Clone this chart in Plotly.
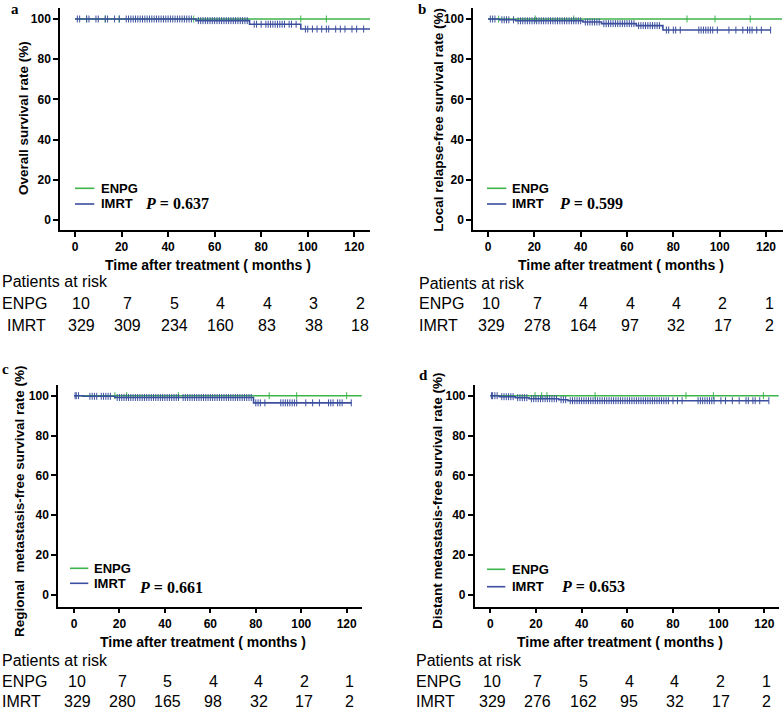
import plotly.graph_objects as go

# ---------------- data ----------------
risk_times = [0, 20, 40, 60, 80, 100, 120]
panel_letters = ["a", "b", "c", "d"]
y_titles = ["Overall survival rate (%)",
            "Local relapse-free survival rate (%)",
            "Regional  metastasis-free survival rate (%)",
            "Distant metastasis-free survival rate (%)"]
p_values = ["0.637", "0.599", "0.661", "0.653"]

risk_enpg = [[10, 7, 5, 4, 4, 3, 2],
             [10, 7, 4, 4, 4, 2, 1],
             [10, 7, 5, 4, 4, 2, 1],
             [10, 7, 5, 4, 4, 2, 1]]
risk_imrt = [[329, 309, 234, 160, 83, 38, 18],
             [329, 278, 164, 97, 32, 17, 2],
             [329, 280, 165, 98, 32, 17, 2],
             [329, 276, 162, 95, 32, 17, 2]]

# IMRT Kaplan-Meier steps (event times, survival %), and last follow-up time
imrt_times = [[0, 52, 75, 97],
              [0, 5, 12, 41, 49, 64, 75.5],
              [0, 4, 18, 79],
              [0, 4, 11, 17, 30, 34]]
imrt_surv = [[100, 99.2, 97.4, 95.0],
             [100, 99.6, 99.1, 98.5, 97.7, 96.7, 94.5],
             [100, 99.7, 99.1, 96.4],
             [100, 99.5, 99.0, 98.5, 98.0, 97.5]]
imrt_end = [126.8, 122, 122.2, 122]

imrt_cens = [
    [1, 2, 5, 6, 9, 10, 13, 14, 17, 19, 22, 23, 24, 25, 26, 27, 28, 29, 30, 31, 32, 33, 34, 35,
     36, 37, 38, 39, 40, 41, 42, 43, 44, 45, 46, 47, 48, 49, 50, 53, 54, 55, 56, 57, 58, 59, 60,
     61, 62, 63, 64, 65, 66, 67, 68, 69, 70, 71, 72, 73, 74, 77, 78, 80, 82, 83, 84, 85, 86, 87,
     88, 89, 90, 92, 93, 95, 99, 100, 102, 104, 106, 108, 109, 112, 114, 116, 119, 121, 124],
    [1, 2, 3, 6, 7, 8, 9, 11, 13, 14, 15, 16, 17, 18, 19, 20, 21, 22, 23, 24, 25, 26, 27, 28, 29,
     30, 31, 32, 33, 34, 35, 36, 37, 38, 39, 40, 42, 43, 44, 45, 46, 47, 48, 50, 51, 52, 53, 54,
     55, 56, 57, 58, 59, 60, 61, 62, 63, 65, 66, 67, 68, 69, 70, 71, 72, 73, 74, 77, 78, 80, 81,
     83, 91, 92, 93, 94, 95, 96, 97, 99, 104, 107, 110, 112, 113, 114, 116, 118, 122],
    [0.5, 1, 2, 7, 8, 9, 10, 12, 13, 14, 15, 16, 19, 20, 21, 22, 23, 24, 25, 26, 27, 28, 29, 30,
     31, 32, 33, 34, 35, 36, 37, 38, 39, 40, 41, 42, 43, 44, 45, 46, 48, 49, 50, 51, 52, 53, 54,
     55, 56, 57, 58, 59, 60, 61, 62, 63, 64, 65, 66, 67, 68, 69, 70, 71, 72, 73, 74, 75, 76, 77,
     78, 80, 81, 82, 84, 91, 92, 93, 94, 95, 96, 97, 98, 102, 105, 108, 112, 113, 114, 116, 117,
     118, 122],
    [0.5, 1, 2, 3, 5, 6, 7, 8, 9, 10, 12, 13, 14, 15, 16, 18, 19, 20, 21, 22, 23, 24, 25, 26, 27,
     28, 29, 31, 32, 33, 35, 36, 37, 38, 39, 40, 41, 42, 43, 44, 45, 46, 47, 48, 49, 50, 51, 52,
     53, 54, 55, 56, 57, 58, 59, 60, 61, 62, 63, 64, 65, 66, 67, 68, 69, 70, 71, 72, 73, 74, 75,
     76, 77, 78, 80, 82, 84, 91, 92, 93, 94, 95, 96, 97, 98, 101, 103, 106, 109, 112, 113, 115,
     116, 118, 122],
]

enpg_end = [126.8, 126.9, 126.6, 126.3]
enpg_cens = [[5, 13, 19, 51, 97, 108],
             [4.6, 20.4, 37, 85.9, 98, 113.2],
             [18, 23.2, 45.9, 85.9, 98, 120],
             [19.6, 22.5, 24.8, 45.9, 85.7, 97.7, 119.6]]

# ---------------- layout (pixel geometry) ----------------
W, H = 784, 712
GREEN = "#3db54a"
BLUE = "#3b4f9e"

# L, R, T, B, x0px, x120px, y100px, y0px
geom = [
    (60, 370, 8.3, 230, 75, 354.3, 19, 220),
    (473, 783, 8.3, 230, 488, 766, 19, 220),
    (58, 362, 385, 606.7, 74, 346.7, 395.7, 595),
    (474.7, 779, 385, 606.7, 490.3, 764.3, 395.7, 595),
]
letter_pos = [(14.5, 9), (422, 9), (5, 369), (423, 375)]
ytitle_pos = [(23, 118), (438.7, 120), (19, 501), (437, 501)]
xtitle_y = [265, 265, 641.7, 641.7]
legend_geo = [  # line x0, x1, text x, y enpg, y imrt, p x, p y
    (75, 94.3, 99, 188.3, 204, 143.3, 203),
    (487, 506.3, 510.3, 188.3, 204, 557, 203),
    (70, 88.3, 91.7, 568.3, 583.3, 136.7, 587),
    (487, 505.3, 510.3, 569.3, 586.7, 558.7, 586.7),
]
risk_rows_y = [(281.7, 303.3, 326), (283.3, 303.3, 325), (660, 681.7, 701.7), (660, 681.7, 701.7)]
risk_label_x = [(0, 0, 5), (417, 417, 417), (0, 0, 0), (413.7, 413.7, 413.7)]
risk_xshift = [6, 3, 3, 2]


def px(x):
    return x / W


def py(y):
    return 1 - y / H


def step_at(times, surv, t):
    v = surv[0]
    for tt, s in zip(times, surv):
        if t >= tt:
            v = s
    return v


fig = go.Figure()
annotations = []
shapes = []
axis_font = dict(family="Liberation Sans", size=12, color="black", weight="bold")

for i in range(4):
    L, R, T, B, x0p, x120p, y100p, y0p = geom[i]
    sx = (x120p - x0p) / 120.0
    sy = (y0p - y100p) / 100.0
    xr = [(L - x0p) / sx, (R - x0p) / sx]
    yr = [-(B - y0p) / sy, (y0p - T) / sy]
    n = "" if i == 0 else str(i + 1)
    xa, ya = "x" + n, "y" + n

    # ENPG curve
    fig.add_trace(go.Scatter(x=[0, enpg_end[i]], y=[100, 100], mode="lines",
                             line=dict(color=GREEN, width=1.6), xaxis=xa, yaxis=ya,
                             showlegend=False, hoverinfo="skip"))
    fig.add_trace(go.Scatter(x=enpg_cens[i], y=[100] * len(enpg_cens[i]), mode="markers",
                             marker=dict(symbol="line-ns-open", size=5, color=GREEN,
                                         line=dict(color=GREEN, width=1)),
                             xaxis=xa, yaxis=ya, showlegend=False, hoverinfo="skip"))
    # IMRT curve
    xs = imrt_times[i] + [imrt_end[i]]
    ys = imrt_surv[i] + [imrt_surv[i][-1]]
    fig.add_trace(go.Scatter(x=xs, y=ys, mode="lines", line_shape="hv",
                             line=dict(color=BLUE, width=1.6), xaxis=xa, yaxis=ya,
                             showlegend=False, hoverinfo="skip"))
    cy = [step_at(imrt_times[i], imrt_surv[i], t) for t in imrt_cens[i]]
    fig.add_trace(go.Scatter(x=imrt_cens[i], y=cy, mode="markers",
                             marker=dict(symbol="line-ns-open", size=5, color=BLUE,
                                         line=dict(color=BLUE, width=1)),
                             xaxis=xa, yaxis=ya, showlegend=False, hoverinfo="skip"))

    common = dict(showline=True, linecolor="black", linewidth=1.5, ticks="outside",
                  ticklen=5, tickwidth=1.5, tickcolor="black", showgrid=False,
                  zeroline=False, tickfont=axis_font, fixedrange=True)
    fig.update_layout(**{
        "xaxis" + n: dict(domain=[px(L), px(R)], range=xr, anchor=ya,
                          tickvals=risk_times, **common),
        "yaxis" + n: dict(domain=[py(B), py(T)], range=yr, anchor=xa,
                          tickvals=[0, 20, 40, 60, 80, 100], **common),
    })

    # panel letter
    lx, ly = letter_pos[i]
    annotations.append(dict(text=panel_letters[i], x=px(lx), y=py(ly), xref="paper", yref="paper",
                            showarrow=False, xanchor="center", yanchor="middle",
                            font=dict(family="Liberation Serif", size=15, color="black",
                                      weight="bold")))
    # y title
    tx, ty = ytitle_pos[i]
    annotations.append(dict(text=y_titles[i], x=px(tx), y=py(ty), xref="paper", yref="paper",
                            showarrow=False, textangle=-90, xanchor="center", yanchor="middle",
                            font=dict(family="Liberation Sans", size=13.5, color="black",
                                      weight="bold")))
    # x title
    annotations.append(dict(text="Time after treatment ( months )",
                            x=(xr[0] + xr[1]) / 2 - 3, y=py(xtitle_y[i]), xref=xa, yref="paper",
                            showarrow=False, xanchor="center", yanchor="middle",
                            font=dict(family="Liberation Sans", size=14, color="black",
                                      weight="bold")))
    # legend
    lx0, lx1, ltx, ly1, ly2, ppx, ppy = legend_geo[i]
    for col, yy, lab in [(GREEN, ly1, "ENPG"), (BLUE, ly2, "IMRT")]:
        shapes.append(dict(type="line", xref="paper", yref="paper", x0=px(lx0), x1=px(lx1),
                           y0=py(yy), y1=py(yy), line=dict(color=col, width=1.6)))
        annotations.append(dict(text=lab, x=px(ltx), y=py(yy), xref="paper", yref="paper",
                                showarrow=False, xanchor="left", yanchor="middle",
                                font=dict(family="Liberation Sans", size=13, color="black",
                                          weight="bold")))
    annotations.append(dict(text="<i>P</i> = " + p_values[i], x=px(ppx), y=py(ppy),
                            xref="paper", yref="paper", showarrow=False, xanchor="left",
                            yanchor="middle",
                            font=dict(family="Liberation Serif", size=16, color="black",
                                      weight="bold")))
    # risk table
    ry0, ry1, ry2 = risk_rows_y[i]
    rx0, rx1, rx2 = risk_label_x[i]
    tfont = dict(family="Liberation Sans", size=16, color="black")
    annotations.append(dict(text="Patients at risk", x=px(rx0), y=py(ry0), xref="paper",
                            yref="paper", showarrow=False, xanchor="left", yanchor="middle",
                            font=tfont))
    annotations.append(dict(text="ENPG", x=px(rx1), y=py(ry1), xref="paper", yref="paper",
                            showarrow=False, xanchor="left", yanchor="middle", font=tfont))
    annotations.append(dict(text="IMRT", x=px(rx2), y=py(ry2), xref="paper", yref="paper",
                            showarrow=False, xanchor="left", yanchor="middle", font=tfont))
    for t, ve, vi in zip(risk_times, risk_enpg[i], risk_imrt[i]):
        annotations.append(dict(text=str(ve), x=t, y=py(ry1), xref=xa, yref="paper",
                                showarrow=False, xanchor="center", yanchor="middle",
                                xshift=risk_xshift[i], font=tfont))
        annotations.append(dict(text=str(vi), x=t, y=py(ry2), xref=xa, yref="paper",
                                showarrow=False, xanchor="center", yanchor="middle",
                                xshift=risk_xshift[i], font=tfont))

fig.update_layout(width=W, height=H, autosize=False,
                  margin=dict(l=0, r=0, t=0, b=0, pad=0),
                  paper_bgcolor="white", plot_bgcolor="white",
                  showlegend=False, annotations=annotations, shapes=shapes)

fig.write_html("out.html",
               config={"displayModeBar": False},
               post_script="document.body.style.margin='0';"
                           "document.body.style.padding='0';"
                           "document.body.style.overflow='hidden';")
